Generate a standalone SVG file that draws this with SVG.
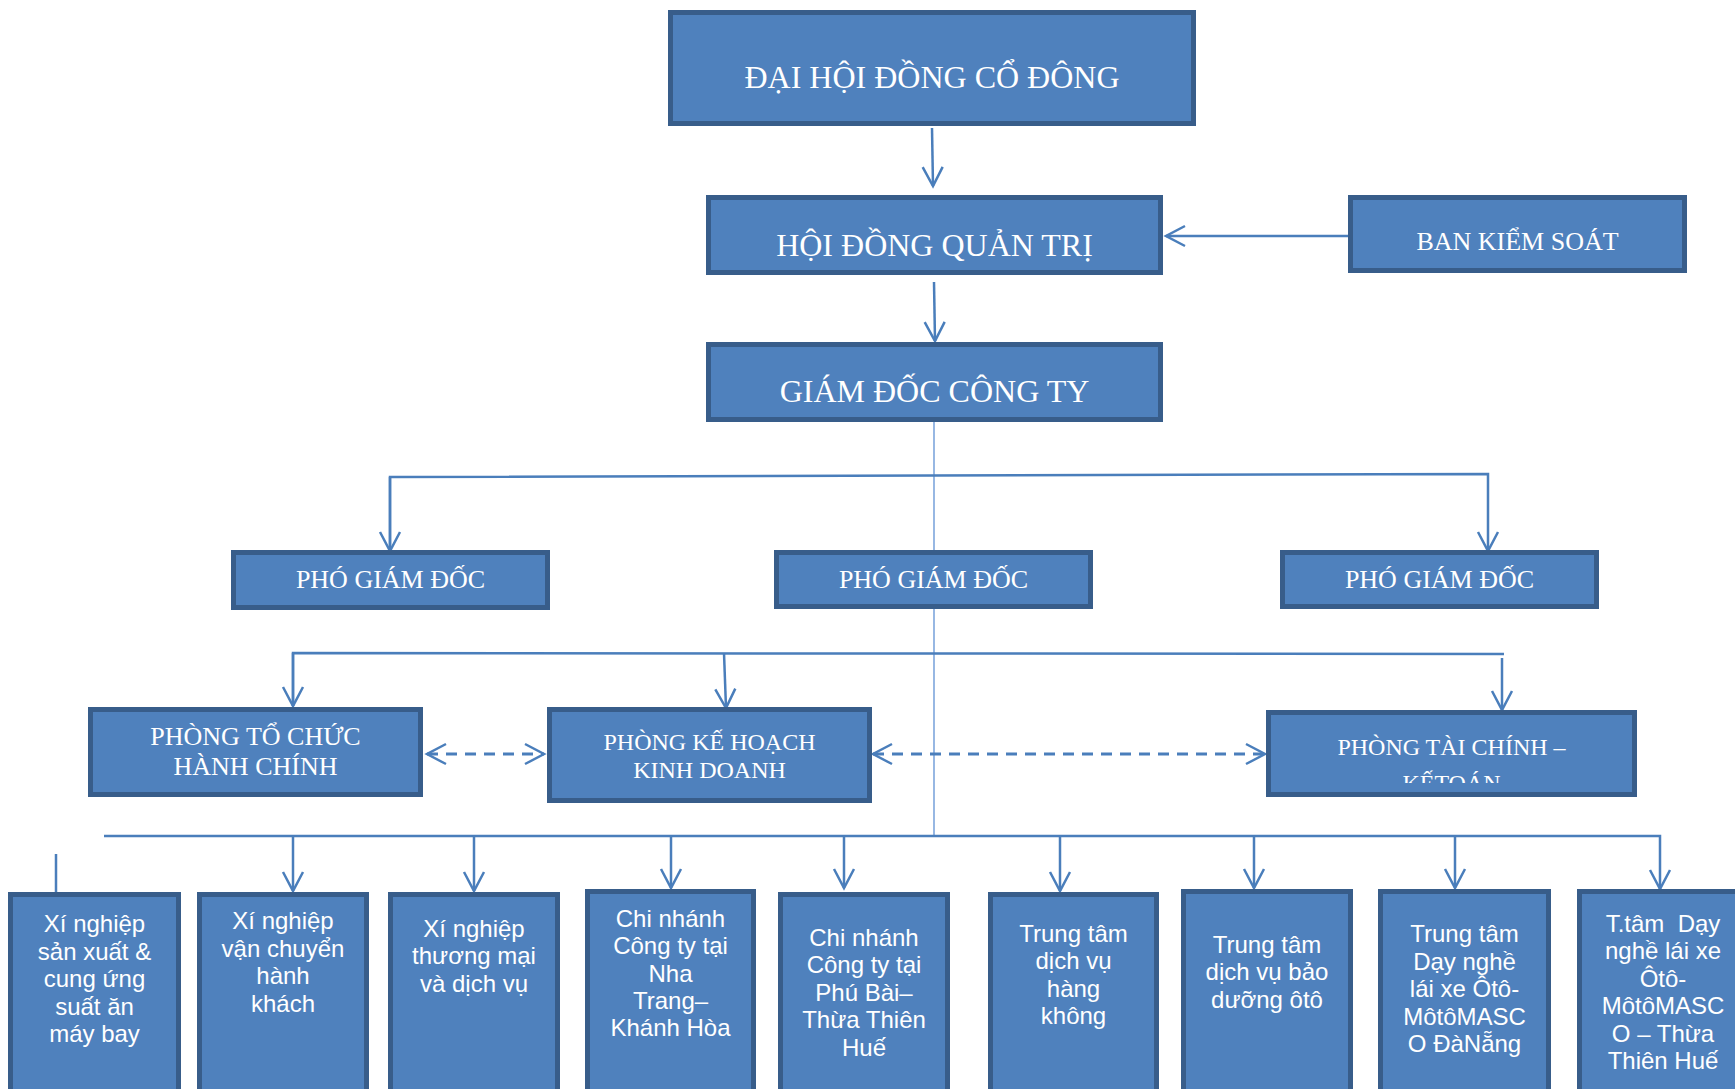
<svg xmlns="http://www.w3.org/2000/svg" width="1735" height="1089" viewBox="0 0 1735 1089">
<style>
.box{fill:#4f81bd;stroke:#385d8a;stroke-width:5}
.ser{font-family:"Liberation Serif","Times New Roman",serif;fill:#ffffff;text-anchor:middle}
.san{font-family:"Liberation Sans",Arial,sans-serif;font-size:24px;fill:#ffffff;text-anchor:middle}
.ln{fill:none;stroke:#4a7ebb;stroke-width:2.5}
.thin{fill:none;stroke:#7ea6dc;stroke-width:1.6}
.dash{fill:none;stroke:#4a7ebb;stroke-width:3;stroke-dasharray:11 8}
</style>
<defs>
<marker id="ah" markerUnits="userSpaceOnUse" markerWidth="26" markerHeight="26" refX="22" refY="13" orient="auto-start-reverse">
<path d="M3,3 L22,13 L3,23" fill="none" stroke="#4a7ebb" stroke-width="2.5"/>
</marker>
<clipPath id="kt"><rect x="1268" y="712" width="367" height="71"/></clipPath>
</defs>
<g id="connectors">
<line class="thin" x1="934" y1="422" x2="934" y2="836"/>
<line class="ln" x1="932" y1="128" x2="933" y2="186" marker-end="url(#ah)"/>
<line class="ln" x1="1348" y1="236" x2="1166" y2="236" marker-end="url(#ah)"/>
<line class="ln" x1="934" y1="282" x2="935" y2="341" marker-end="url(#ah)"/>
<polyline class="ln" points="390,551 390,477 1488,474 1488,551" marker-end="url(#ah)"/>
<path class="ln" d="M390,477 L390,551" marker-end="url(#ah)"/>
<polyline class="ln" points="293,706 293,653 1504,654"/>
<path class="ln" d="M293,653 L293,706" marker-end="url(#ah)"/>
<line class="ln" x1="724" y1="653" x2="726" y2="708" marker-end="url(#ah)"/>
<line class="ln" x1="1502" y1="658" x2="1502" y2="710" marker-end="url(#ah)"/>
<line class="dash" x1="427" y1="754" x2="544" y2="754" marker-start="url(#ah)" marker-end="url(#ah)"/>
<line class="dash" x1="873" y1="754" x2="1265" y2="754" marker-start="url(#ah)" marker-end="url(#ah)"/>
<polyline class="ln" points="104,836 1660,836 1660,889" marker-end="url(#ah)"/>
<line class="ln" x1="56" y1="854" x2="56" y2="892"/>
<line class="ln" x1="293" y1="837" x2="293" y2="891" marker-end="url(#ah)"/>
<line class="ln" x1="474" y1="837" x2="474" y2="891" marker-end="url(#ah)"/>
<line class="ln" x1="671" y1="837" x2="671" y2="888" marker-end="url(#ah)"/>
<line class="ln" x1="844" y1="837" x2="844" y2="888" marker-end="url(#ah)"/>
<line class="ln" x1="1060" y1="837" x2="1060" y2="891" marker-end="url(#ah)"/>
<line class="ln" x1="1254" y1="837" x2="1254" y2="888" marker-end="url(#ah)"/>
<line class="ln" x1="1455" y1="837" x2="1455" y2="888" marker-end="url(#ah)"/>
</g>
<g id="dhdcd"><rect class="box" x="670.5" y="12.5" width="523" height="111"/><text class="ser" x="932" y="88" font-size="32">ĐẠI HỘI ĐỒNG CỔ ĐÔNG</text></g>
<g id="hdqt"><rect class="box" x="708.5" y="197.5" width="452" height="75"/><text class="ser" x="934.5" y="256" font-size="32">HỘI ĐỒNG QUẢN TRỊ</text></g>
<g id="bks"><rect class="box" x="1350.5" y="197.5" width="334" height="73"/><text class="ser" x="1517.5" y="250" font-size="26">BAN KIỂM SOÁT</text></g>
<g id="gd"><rect class="box" x="708.5" y="344.5" width="452" height="75"/><text class="ser" x="934.5" y="402" font-size="32">GIÁM ĐỐC CÔNG TY</text></g>
<g id="pgd1"><rect class="box" x="233.5" y="552.5" width="314" height="55"/><text class="ser" x="390.5" y="588" font-size="26">PHÓ GIÁM ĐỐC</text></g>
<g id="pgd2"><rect class="box" x="776.5" y="552.5" width="314" height="54"/><text class="ser" x="933.5" y="588" font-size="26">PHÓ GIÁM ĐỐC</text></g>
<g id="pgd3"><rect class="box" x="1282.5" y="552.5" width="314" height="54"/><text class="ser" x="1439.5" y="588" font-size="26">PHÓ GIÁM ĐỐC</text></g>
<g id="ptc"><rect class="box" x="90.5" y="709.5" width="330" height="85"/><text class="ser" font-size="26"><tspan x="255.5" y="745">PHÒNG TỔ CHỨC</tspan><tspan x="255.5" y="775">HÀNH CHÍNH</tspan></text></g>
<g id="pkh"><rect class="box" x="549.5" y="709.5" width="320" height="91"/><text class="ser" font-size="24"><tspan x="709.5" y="750">PHÒNG KẾ HOẠCH</tspan><tspan x="709.5" y="778">KINH DOANH</tspan></text></g>
<g id="ptckt"><rect class="box" x="1268.5" y="712.5" width="366" height="82"/><text class="ser" font-size="24" x="1451.5" y="755">PHÒNG TÀI CHÍNH –</text><text class="ser" font-size="24" x="1451.5" y="791" clip-path="url(#kt)">KẾTOÁN</text></g>
<g id="b1"><rect class="box" x="10.5" y="894.5" width="168" height="220"/><text class="san"><tspan x="94.5" y="932">Xí nghiệp</tspan><tspan x="94.5" y="960">sản xuất &amp;</tspan><tspan x="94.5" y="987">cung ứng</tspan><tspan x="94.5" y="1015">suất ăn</tspan><tspan x="94.5" y="1042">máy bay</tspan></text></g>
<g id="b2"><rect class="box" x="199.5" y="894.5" width="167" height="220"/><text class="san"><tspan x="283" y="929">Xí nghiệp</tspan><tspan x="283" y="957">vận chuyển</tspan><tspan x="283" y="984">hành</tspan><tspan x="283" y="1012">khách</tspan></text></g>
<g id="b3"><rect class="box" x="390.5" y="894.5" width="167" height="220"/><text class="san"><tspan x="474" y="937">Xí nghiệp</tspan><tspan x="474" y="964">thương mại</tspan><tspan x="474" y="992">và dịch vụ</tspan></text></g>
<g id="b4"><rect class="box" x="587.5" y="891.5" width="166" height="220"/><text class="san"><tspan x="670.5" y="927">Chi nhánh</tspan><tspan x="670.5" y="954">Công ty tại</tspan><tspan x="670.5" y="982">Nha</tspan><tspan x="670.5" y="1009">Trang–</tspan><tspan x="670.5" y="1036">Khánh Hòa</tspan></text></g>
<g id="b5"><rect class="box" x="780.5" y="894.5" width="167" height="220"/><text class="san"><tspan x="864" y="946">Chi nhánh</tspan><tspan x="864" y="973">Công ty tại</tspan><tspan x="864" y="1001">Phú Bài–</tspan><tspan x="864" y="1028">Thừa Thiên</tspan><tspan x="864" y="1056">Huế</tspan></text></g>
<g id="b6"><rect class="box" x="990.5" y="894.5" width="166" height="220"/><text class="san"><tspan x="1073.5" y="942">Trung tâm</tspan><tspan x="1073.5" y="969">dịch vụ</tspan><tspan x="1073.5" y="997">hàng</tspan><tspan x="1073.5" y="1024">không</tspan></text></g>
<g id="b7"><rect class="box" x="1183.5" y="891.5" width="167" height="220"/><text class="san"><tspan x="1267" y="953">Trung tâm</tspan><tspan x="1267" y="980">dịch vụ bảo</tspan><tspan x="1267" y="1008">dưỡng ôtô</tspan></text></g>
<g id="b8"><rect class="box" x="1380.5" y="891.5" width="168" height="220"/><text class="san"><tspan x="1464.5" y="942">Trung tâm</tspan><tspan x="1464.5" y="970">Dạy nghề</tspan><tspan x="1464.5" y="997">lái xe Ôtô-</tspan><tspan x="1464.5" y="1025">MôtôMASC</tspan><tspan x="1464.5" y="1052">O ĐàNẵng</tspan></text></g>
<g id="b9"><rect class="box" x="1579.5" y="891.5" width="200" height="220"/><text class="san" xml:space="preserve" style="white-space:pre"><tspan x="1663" y="932">T.tâm  Dạy</tspan><tspan x="1663" y="959">nghề lái xe</tspan><tspan x="1663" y="987">Ôtô-</tspan><tspan x="1663" y="1014">MôtôMASC</tspan><tspan x="1663" y="1042">O – Thừa</tspan><tspan x="1663" y="1069">Thiên Huế</tspan></text></g>
</svg>
